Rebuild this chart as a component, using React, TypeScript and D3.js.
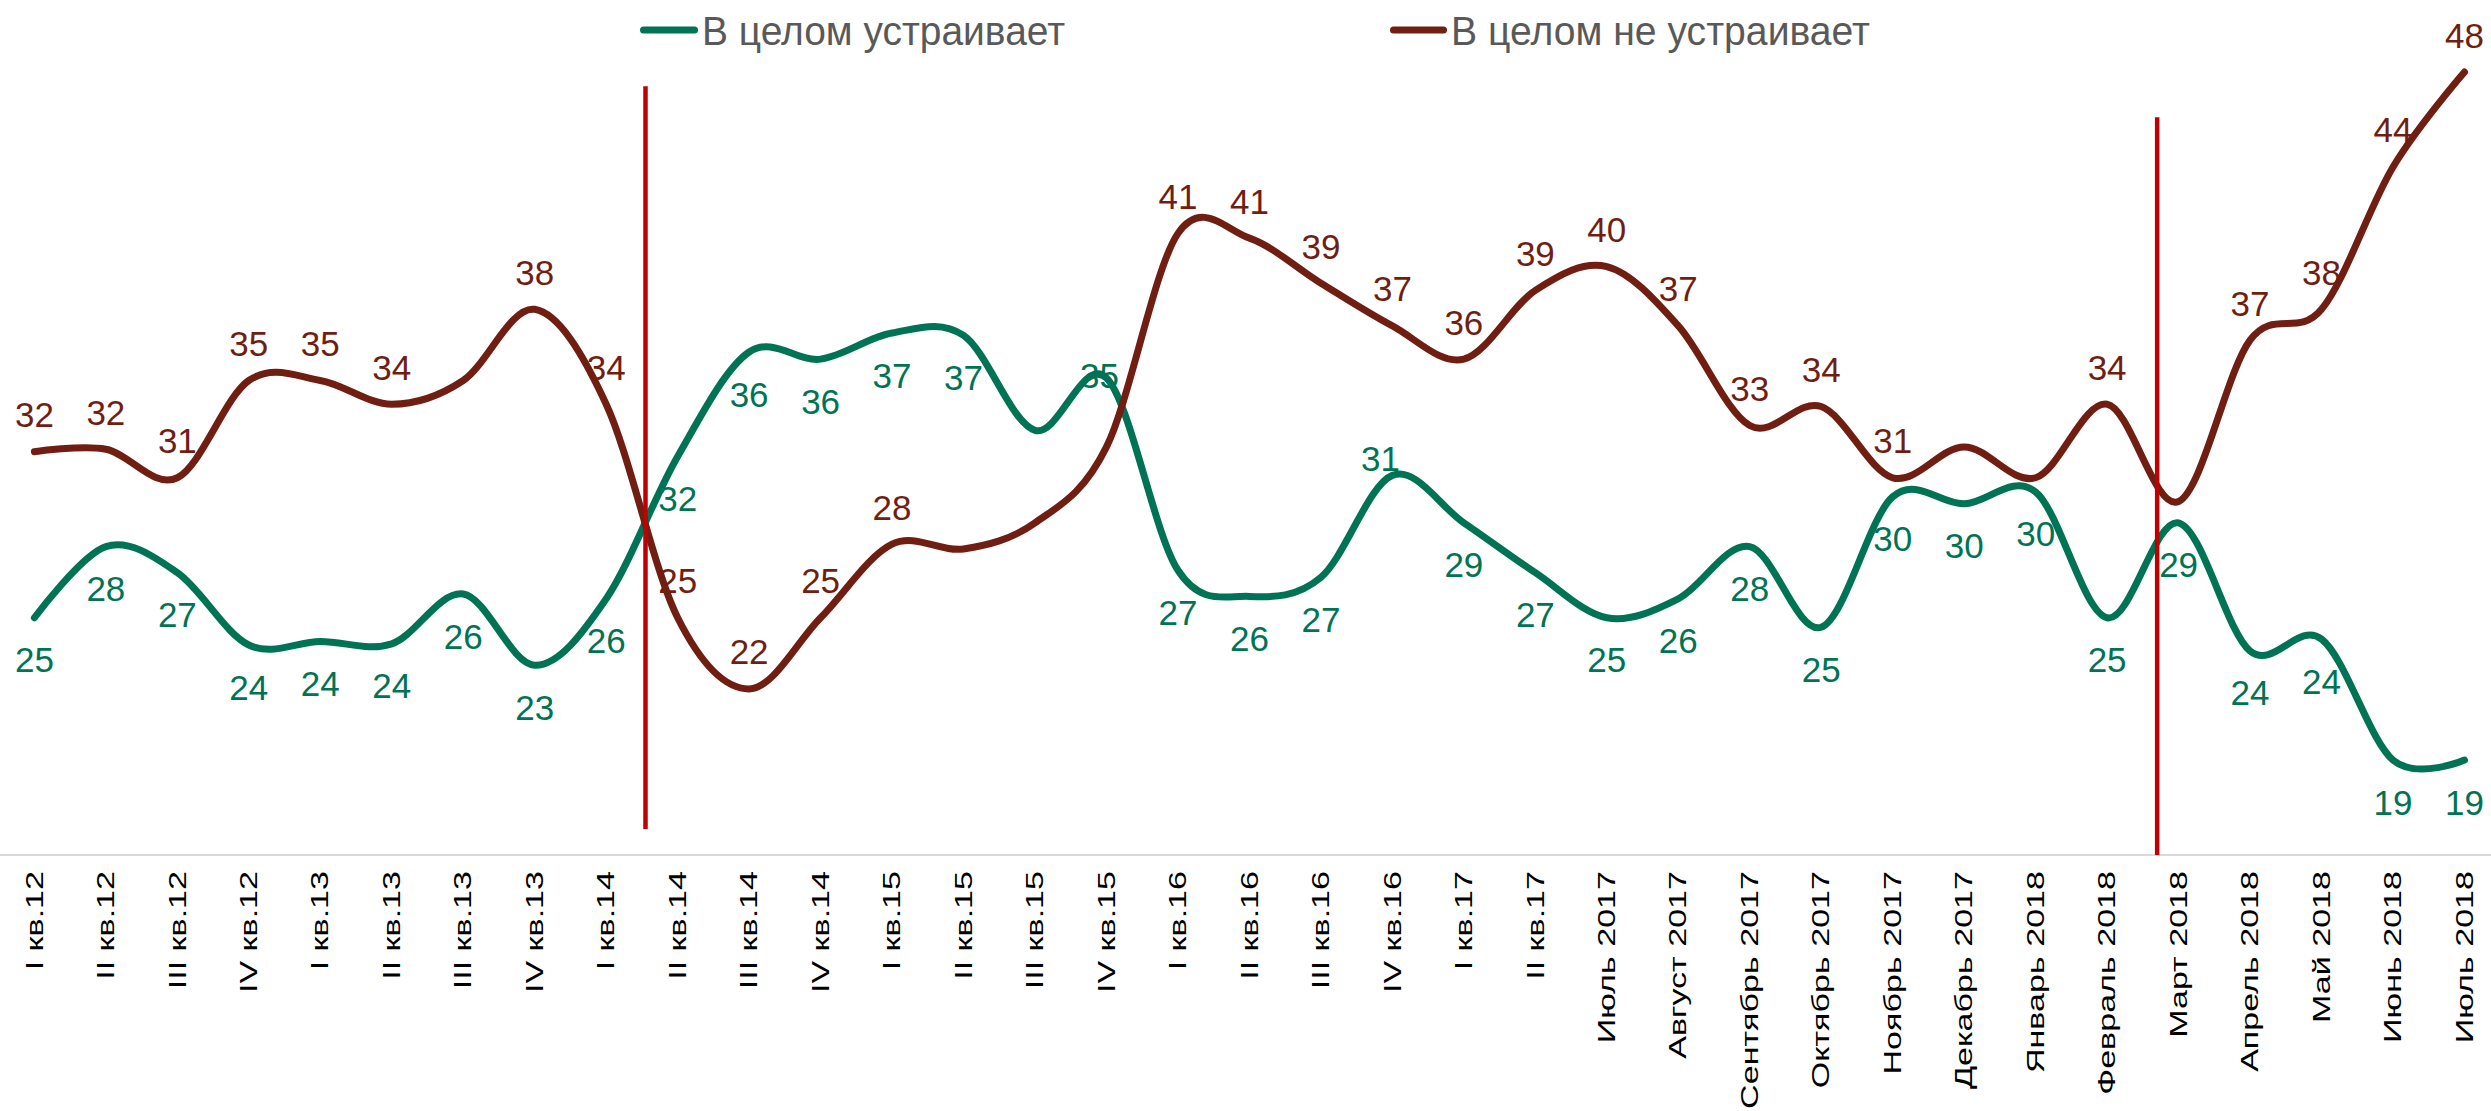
import React, { useEffect, useRef } from 'react';
import * as d3 from 'd3';

const categories = [
    "I кв.12", "II кв.12", "III кв.12", "IV кв.12",
    "I кв.13", "II кв.13", "III кв.13", "IV кв.13",
    "I кв.14", "II кв.14", "III кв.14", "IV кв.14",
    "I кв.15", "II кв.15", "III кв.15", "IV кв.15",
    "I кв.16", "II кв.16", "III кв.16", "IV кв.16",
    "I кв.17", "II кв.17",
    "Июль 2017", "Август 2017", "Сентябрь 2017", "Октябрь 2017", "Ноябрь 2017", "Декабрь 2017",
    "Январь 2018", "Февраль 2018", "Март 2018", "Апрель 2018", "Май 2018", "Июнь 2018", "Июль 2018"
];

const seriesNames = ["В целом устраивает", "В целом не устраивает"];

// values, labels show them rounded
const satisfied = [
    25, 28, 26.9, 23.85, 24, 23.9, 26, 23, 25.8, 31.8, 36.2, 35.9,
    37, 36.9, 32.9, 35.1, 27, 25.9, 26.7, 31, 29, 26.9,
    25, 25.8, 28, 24.6, 30.1, 29.8, 30.3, 25, 29, 23.6, 24.1, 19, 19
];

const notSatisfied = [
    32, 32.1, 30.9, 35, 35, 34, 35, 38, 34, 25, 22, 25,
    28.1, 27.9, 29, 32.2, 41.2, 41, 39.1, 37.3, 35.9, 38.8,
    39.8, 37.3, 33.1, 33.9, 30.9, 32.2, 30.9, 34, 29.9, 36.7, 38, 44, 48
];

// where each data label sits ("none" = not shown on the chart)
const satisfiedLabelPlace = [
    "below", "below", "below", "below", "below", "below", "below", "below", "below", "below", "below", "below",
    "below", "below", "none", "nudge", "below", "below", "below", "upleft", "below", "below",
    "below", "below", "below", "below", "below", "below", "below", "below", "below", "below", "below", "below", "below"
];

const notSatisfiedLabelPlace = [
    "above", "above", "above", "above", "above", "above", "none", "above", "above", "above", "above", "above",
    "above", "none", "none", "none", "above", "above", "above", "above", "above", "above",
    "above", "above", "above", "above", "above", "none", "none", "above", "none", "above", "above", "above", "above"
];

// red separators: placed between a category and the next one
const dividers = [
    { after: "I кв.14", frac: 0.55, top: 47.4, bottom: 16.1 },
    { after: "Февраль 2018", frac: 0.7, top: 46.1, bottom: 15 }
];

const labelOffsets = {
    below: [0, 54.5],
    above: [0, -24.5],
    nudge: [-7, 9.5],
    upleft: [-12, -4.5]
};

const colors = ["#007354", "#701E12"];
const font = "'Liberation Sans', Arial, sans-serif";

const App = ({ width = 2491, height = 1111 }) => {
    const wrapper = useRef(null);

    useEffect(() => {
        d3.select(wrapper.current).selectAll("svg").remove();

        const svg = d3.select(wrapper.current)
            .append("svg")
            .attr("width", width)
            .attr("height", height)
            .style("position", "absolute")
            .style("left", 0)
            .style("top", 0)
            .style("background", "#fff");

        const x = d3.scalePoint()
            .domain(categories)
            .range([34.4, 2464.5]);

        const y = d3.scaleLinear()
            .domain([15, 50])
            .range([855, 24.6]);

        // category axis
        svg.append("line")
            .attr("x1", 0)
            .attr("x2", width)
            .attr("y1", y(15))
            .attr("y2", y(15))
            .attr("stroke", "#d9d9d9")
            .attr("stroke-width", 2);

        svg.append("g")
            .selectAll("text")
            .data(categories)
            .join("text")
                .attr("transform", d => `translate(${x(d)},${y(15) + 16}) rotate(-90) scale(1.42,1)`)
                .attr("text-anchor", "end")
                .attr("dy", "0.34em")
                .attr("font-family", font)
                .attr("font-size", 24)
                .attr("fill", "#000")
                .text(d => d);

        const line = d3.line()
            .x((d, i) => x(categories[i]))
            .y(d => y(d))
            .curve(d3.curveCardinal.tension(0));

        const series = [
            { values: satisfied, place: satisfiedLabelPlace, color: colors[0] },
            { values: notSatisfied, place: notSatisfiedLabelPlace, color: colors[1] }
        ];

        svg.append("g")
            .selectAll("path")
            .data(series)
            .join("path")
                .attr("d", d => line(d.values))
                .attr("fill", "none")
                .attr("stroke", d => d.color)
                .attr("stroke-width", 7)
                .attr("stroke-linecap", "round")
                .attr("stroke-linejoin", "round");

        svg.append("g")
            .selectAll("line")
            .data(dividers)
            .join("line")
                .attr("x1", d => x(d.after) + d.frac * x.step())
                .attr("x2", d => x(d.after) + d.frac * x.step())
                .attr("y1", d => y(d.top))
                .attr("y2", d => y(d.bottom))
                .attr("stroke", "#C00000")
                .attr("stroke-width", 4.5);

        series.forEach(s => {
            const pts = s.values
                .map((v, i) => ({ v, cat: categories[i], place: s.place[i] }))
                .filter(d => d.place !== "none");

            svg.append("g")
                .selectAll("text")
                .data(pts)
                .join("text")
                    .attr("x", d => x(d.cat) + labelOffsets[d.place][0])
                    .attr("y", d => y(d.v) + labelOffsets[d.place][1])
                    .attr("text-anchor", "middle")
                    .attr("font-family", font)
                    .attr("font-size", 35)
                    .attr("fill", s.color)
                    .text(d => Math.round(d.v));
        });

        // legend
        const legend = [
            { name: seriesNames[0], color: colors[0], x0: 643.5, x1: 694.5, tx: 702, len: 363 },
            { name: seriesNames[1], color: colors[1], x0: 1393.5, x1: 1443.5, tx: 1451, len: 419 }
        ];

        const lg = svg.append("g")
            .selectAll("g")
            .data(legend)
            .join("g");

        lg.append("line")
            .attr("x1", d => d.x0)
            .attr("x2", d => d.x1)
            .attr("y1", 30)
            .attr("y2", 30)
            .attr("stroke", d => d.color)
            .attr("stroke-width", 7)
            .attr("stroke-linecap", "round");

        lg.append("text")
            .attr("x", d => d.tx)
            .attr("y", 45)
            .attr("font-family", font)
            .attr("font-size", 41)
            .attr("fill", "#595959")
            .attr("textLength", d => d.len)
            .attr("lengthAdjust", "spacingAndGlyphs")
            .text(d => d.name);

    }, [width, height]);

    return (
        <div className={"line-chart"}>
            <div ref={wrapper} />
        </div>
    );
};

export { App as default };
